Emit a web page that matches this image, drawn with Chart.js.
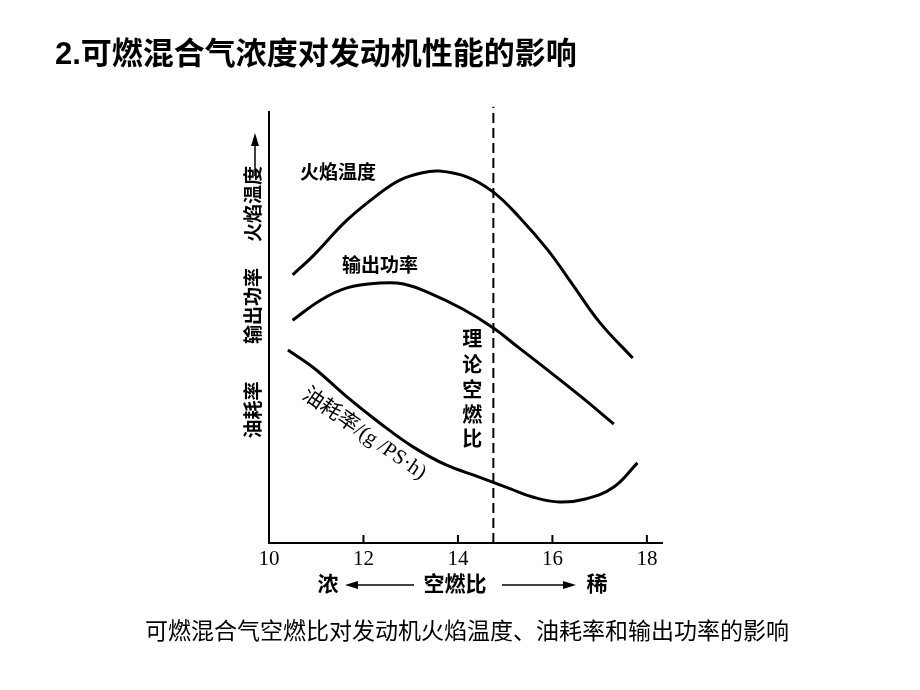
<!DOCTYPE html>
<html>
<head>
<meta charset="utf-8">
<script src="https://cdn.jsdelivr.net/npm/chart.js@4/dist/chart.umd.min.js"></script>
<style>
  html, body { margin: 0; padding: 0; background: #fff; }
  #wrap { width: 920px; height: 690px; position: relative; }
</style>
</head>
<body>
<div id="wrap"><canvas id="chart"></canvas></div>
<script>
// air-fuel ratio (x) and relative level (y, 0-100)
const afrFlame = [10.5, 10.95, 11.65, 12.35, 12.77, 13.2, 13.6, 14.2, 14.75, 15.3, 15.9, 16.45, 17.0, 17.7];
const flameTemp = [62.2, 66.8, 74.9, 81.2, 84.2, 85.8, 86.3, 84.9, 81.4, 75.6, 68.0, 59.6, 51.2, 42.9];

const afrPower = [10.5, 11.1, 11.65, 12.35, 12.85, 13.4, 14.1, 14.75, 15.3, 15.9, 16.6, 17.3];
const powerOut = [51.7, 56.4, 59.2, 60.3, 60.1, 58.0, 54.3, 49.9, 45.2, 40.1, 34.0, 27.6];

const afrFuel = [10.4, 10.95, 11.65, 12.35, 13.05, 13.75, 14.45, 15.1, 15.6, 16.15, 16.7, 17.3, 17.8];
const fuelRate = [44.8, 40.6, 33.9, 27.8, 22.3, 18.1, 15.3, 12.6, 10.6, 9.5, 10.2, 13.0, 18.6];

const stoichAfr = [14.75, 14.75];
const stoichY = [0, 101.2];

const xTicks = [10, 12, 14, 16, 18];

const titleText = '2.可燃混合气浓度对发动机性能的影响';
const captionText = '可燃混合气空燃比对发动机火焰温度、油耗率和输出功率的影响';
const flameLabel = '火焰温度';
const powerLabel = '输出功率';
const fuelLabel = '油耗率/(g /PS·h)';
const stoichLabel = ['理', '论', '空', '燃', '比'];
const yLabels = ['油耗率', '输出功率', '火焰温度'];
const xLabels = ['浓', '空燃比', '稀'];

const CJK = '"Liberation Sans", "Noto Sans CJK SC", sans-serif';

function pts(xs, ys) {
  return xs.map((x, i) => ({ x: x, y: ys[i] }));
}

function curve(xs, ys) {
  return {
    data: pts(xs, ys),
    borderColor: '#000',
    borderWidth: 3,
    pointRadius: 0,
    fill: false,
    tension: 0.4
  };
}

function arrow(ctx, x1, y1, x2, y2) {
  // line from (x1,y1) to head at (x2,y2)
  let a = Math.atan2(y2 - y1, x2 - x1);
  ctx.beginPath();
  ctx.moveTo(x1, y1);
  ctx.lineTo(x2 - 10 * Math.cos(a), y2 - 10 * Math.sin(a));
  ctx.lineWidth = 1.5;
  ctx.stroke();
  ctx.beginPath();
  ctx.moveTo(x2, y2);
  ctx.lineTo(x2 - 13 * Math.cos(a) + 4 * Math.sin(a), y2 - 13 * Math.sin(a) - 4 * Math.cos(a));
  ctx.lineTo(x2 - 13 * Math.cos(a) - 4 * Math.sin(a), y2 - 13 * Math.sin(a) + 4 * Math.cos(a));
  ctx.closePath();
  ctx.fill();
}

const annotate = {
  id: 'annotate',
  afterDraw(chart) {
    let ctx = chart.ctx;
    let xs = chart.scales.x;
    let bottom = chart.chartArea.bottom;
    ctx.save();
    ctx.fillStyle = '#000';
    ctx.strokeStyle = '#000';

    // inward tick marks
    ctx.lineWidth = 2;
    xs.ticks.forEach(t => {
      let px = xs.getPixelForValue(t.value);
      ctx.beginPath();
      ctx.moveTo(px, bottom);
      ctx.lineTo(px, bottom - 8);
      ctx.stroke();
    });

    // page title and caption
    ctx.textBaseline = 'middle';
    ctx.textAlign = 'left';
    ctx.font = 'bold 31px ' + CJK;
    ctx.fillText(titleText, 55, 55);
    ctx.textAlign = 'center';
    ctx.font = '23px ' + CJK;
    ctx.fillText(captionText, 467, 633);

    // curve labels
    ctx.font = 'bold 19px ' + CJK;
    ctx.textAlign = 'left';
    ctx.fillText(flameLabel, 300, 174);
    ctx.fillText(powerLabel, 342, 267);

    ctx.textAlign = 'center';
    ctx.font = 'bold 20px ' + CJK;
    let sx = xs.getPixelForValue(stoichAfr[0]) - 21;
    let sy = [340, 366, 391, 416, 440];
    stoichLabel.forEach((c, i) => ctx.fillText(c, sx, sy[i]));

    ctx.save();
    ctx.translate(364, 434);
    ctx.rotate(34.5 * Math.PI / 180);
    ctx.font = '21px "Liberation Serif", "Noto Sans CJK SC", serif';
    ctx.fillText(fuelLabel, 0, 0);
    ctx.restore();

    // y-axis caption, vertical
    ctx.save();
    ctx.translate(255, 0);
    ctx.rotate(-Math.PI / 2);
    ctx.font = 'bold 19px ' + CJK;
    ctx.textAlign = 'center';
    ctx.fillText(yLabels[0], -410, 0);
    ctx.fillText(yLabels[1], -306, 0);
    ctx.fillText(yLabels[2], -204, 0);
    arrow(ctx, -176, 0, -133, 0);
    ctx.restore();

    // x-axis caption
    ctx.font = 'bold 21px ' + CJK;
    ctx.textAlign = 'center';
    ctx.fillText(xLabels[0], 328, 585);
    ctx.fillText(xLabels[1], 455, 585);
    ctx.fillText(xLabels[2], 597, 585);
    arrow(ctx, 414, 585, 345, 585);
    arrow(ctx, 502, 585, 576, 585);

    ctx.restore();
  }
};

new Chart(document.getElementById('chart'), {
  type: 'line',
  data: {
    datasets: [
      curve(afrFlame, flameTemp),
      curve(afrPower, powerOut),
      curve(afrFuel, fuelRate),
      {
        data: pts(stoichAfr, stoichY),
        borderColor: '#000',
        borderWidth: 2,
        borderDash: [10, 5],
        pointRadius: 0,
        clip: false
      }
    ]
  },
  options: {
    responsive: true,
    maintainAspectRatio: false,
    animation: false,
    layout: { padding: { left: 269, right: 258, top: 112, bottom: 117 } },
    plugins: { legend: { display: false }, tooltip: { enabled: false } },
    scales: {
      x: {
        type: 'linear',
        min: 10,
        max: 18.32,
        afterFit: s => { s.height = 30; },
        afterBuildTicks: s => { s.ticks = xTicks.map(v => ({ value: v })); },
        grid: { display: false, drawTicks: false },
        border: { display: true, color: '#000', width: 2 },
        ticks: {
          padding: 4,
          color: '#000',
          font: { family: '"Liberation Serif", serif', size: 21 }
        }
      },
      y: {
        min: 0,
        max: 100,
        afterFit: s => { s.width = 0; },
        grid: { display: false, drawTicks: false },
        border: { display: true, color: '#000', width: 2 },
        ticks: { display: false }
      }
    }
  },
  plugins: [annotate]
});
</script>
</body>
</html>
